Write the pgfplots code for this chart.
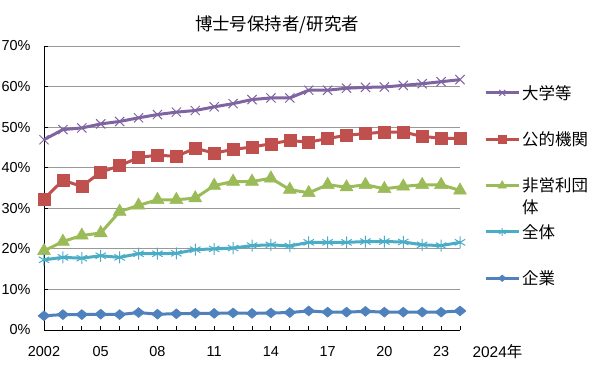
\documentclass[border=0pt]{standalone}
\usepackage{pgfplots}
\pgfplotsset{compat=1.18}
\usepackage{pgfplotstable}
\usepackage{fontspec}
\setmainfont{Liberation Sans}
\newfontfamily\cjk{Noto Sans CJK JP}
\definecolor{cPur}{HTML}{8064A2}
\definecolor{cRed}{HTML}{C0504D}
\definecolor{cGrn}{HTML}{9BBB59}
\definecolor{cCyn}{HTML}{4BACC6}
\definecolor{cBlu}{HTML}{4F81BD}
\pgfplotstableread{
year U P N T C
2002 46.9 32.3 19.5 17.3 3.5
2003 49.4 36.9 21.8 17.9 3.8
2004 49.8 35.4 23.3 17.7 3.8
2005 50.8 38.9 23.9 18.3 3.9
2006 51.4 40.5 29.2 17.9 3.8
2007 52.3 42.5 30.7 18.8 4.3
2008 53.1 43.1 32.1 18.8 3.9
2009 53.7 42.8 32.1 18.9 4.0
2010 54.1 44.8 32.5 19.8 4.1
2011 55.0 43.6 35.6 20.0 4.1
2012 55.8 44.5 36.6 20.2 4.2
2013 56.8 45.1 36.6 20.8 4.1
2014 57.2 45.9 37.4 21.0 4.2
2015 57.2 46.7 34.6 20.7 4.3
2016 59.1 46.3 33.8 21.6 4.7
2017 59.1 47.2 35.8 21.6 4.4
2018 59.6 48.0 35.2 21.6 4.4
2019 59.8 48.4 35.8 21.8 4.6
2020 59.9 48.8 34.8 21.8 4.4
2021 60.3 48.8 35.4 21.7 4.4
2022 60.7 47.7 35.8 21.0 4.4
2023 61.2 47.3 35.8 20.8 4.4
2024 61.7 47.2 34.4 21.6 4.7
}\datatable
\begin{document}
\begin{tikzpicture}
\useasboundingbox (-44bp,-35bp) rectangle (556bp,330bp);
\begin{axis}[
  at={(0,0)}, anchor=south west,
  scale only axis, width=416bp, height=284bp,
  xmin=2002, xmax=2024, ymin=0, ymax=70,
  axis x line*=bottom, axis y line*=left,
  axis line style={black, line width=0.9bp, -},
  xtick={2002,...,2024},
  xticklabels={2002,,,05,,,08,,,11,,,14,,,17,,,20,,,23,},
  ytick={0,10,...,70},
  yticklabel={\pgfmathprintnumber{\tick}\%},
  ymajorgrids,
  major grid style={color=black!40, line width=0.9bp},
  tick align=inside, major tick length=4bp,
  tick style={black, line width=0.9bp},
  /pgf/number format/assume math mode=true,
  tick label style={font=\fontsize{14.5}{17}\selectfont},
  yticklabel style={xshift=-10bp},
  xticklabel style={yshift=-13bp},
  clip=false,
  legend style={at={(rel axis cs:1,1)}, anchor=north west, xshift=24bp, yshift=-37bp,
    draw=none, fill=none, inner sep=0pt, row sep=27bp,
    font=\cjk\fontsize{16.5}{19}\selectfont},
  legend cell align=left,
  legend image code/.code={\draw[mark repeat=2,mark phase=2,every mark/.append style={scale=0.65}] plot coordinates {(0bp,0bp)(16.5bp,0bp)(33bp,0bp)};},
]
\addplot[cPur, line width=3bp, mark=x, mark size=6.5bp, mark options={line width=1bp}] table[x=year,y=U] {\datatable};
\addlegendentry{大学等}
\addplot[cRed, line width=3bp, mark=square*, mark size=6bp, mark options={line width=0.5bp}] table[x=year,y=P] {\datatable};
\addlegendentry{公的機関}
\addplot[cGrn, line width=3bp, mark=triangle*, mark size=7.5bp, mark options={line width=0.5bp}] table[x=year,y=N] {\datatable};
\addlegendentry{非営利団\rlap{\raisebox{-1.3em}[0pt][0pt]{\hspace{-4em}体}}}
\addplot[cCyn, line width=3bp, mark=asterisk, mark size=6bp, mark options={line width=1bp}] table[x=year,y=T] {\datatable};
\addlegendentry{全体}
\addplot[cBlu, line width=3bp, mark=diamond*, mark size=5bp, mark options={line width=0.5bp, xscale=1.6}] table[x=year,y=C] {\datatable};
\addlegendentry{企業}
\node[anchor=base west, font=\fontsize{15.5}{18}\selectfont] at (rel axis cs:1,0) [xshift=9bp, yshift=-27bp] {2024\cjk 年};
\end{axis}
\node[font=\cjk\fontsize{17.5}{20}\selectfont] at (233bp,305bp) {博士号保持者/研究者};
\end{tikzpicture}
\end{document}
